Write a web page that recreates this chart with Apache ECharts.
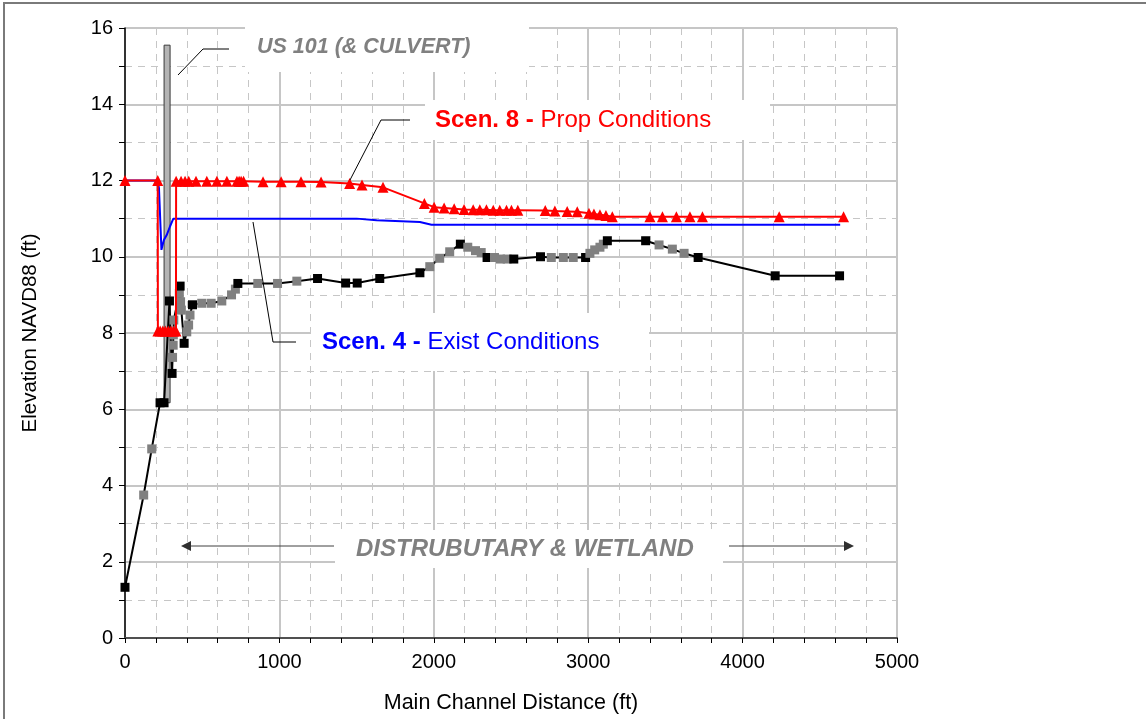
<!DOCTYPE html>
<html>
<head>
<meta charset="utf-8">
<script src="https://cdn.jsdelivr.net/npm/echarts@6/dist/echarts.min.js"></script>
<style>
  html, body { margin: 0; padding: 0; background: #fff; }
  #chart { width: 1146px; height: 719px; }
</style>
</head>
<body>
<div id="chart"></div>
<script>
// Water-surface profiles (Scenario 4 / Scenario 8) and channel thalweg along the main channel.

// Scenario 8 - proposed conditions water surface (ft, NAVD88)
const scen8Station = [0, 212, 213, 228, 245, 262, 280, 298, 315, 330, 331, 363, 389, 413, 460, 530, 595, 660, 725, 739, 752, 768,
  894, 1011, 1140, 1270, 1455, 1535, 1671, 1939, 2002, 2067, 2132, 2196, 2255, 2298, 2341, 2385, 2427, 2471, 2503, 2544,
  2722, 2784, 2864, 2929, 3005, 3037, 3076, 3115, 3156, 3400, 3481, 3571, 3659, 3740, 4237, 4654];
const scen8Elev = [12, 12, 8.05, 8.05, 8.05, 8.05, 8.05, 8.05, 8.05, 8.05, 11.98, 11.98, 11.98, 11.98, 11.98, 11.98, 11.98, 11.98, 11.98, 11.98, 11.98, 11.98,
  11.97, 11.97, 11.97, 11.96, 11.92, 11.88, 11.82, 11.40, 11.30, 11.28, 11.26, 11.24, 11.23, 11.23, 11.23, 11.22, 11.22, 11.22, 11.22, 11.22,
  11.21, 11.20, 11.19, 11.18, 11.14, 11.12, 11.10, 11.08, 11.05, 11.05, 11.05, 11.05, 11.05, 11.05, 11.05, 11.05];

// Scenario 4 - existing conditions water surface
const scen4Station = [0, 212, 220, 236, 242, 252, 270, 292, 313, 1500, 1630, 1910, 1985, 4632];
const scen4Elev = [12, 12, 11.8, 10.18, 10.28, 10.44, 10.57, 10.8, 11.0, 11.0, 10.96, 10.91, 10.84, 10.84];

// Channel bed profile; surveyed = 1 draws a black marker, 0 a gray one
const groundStation = [0, 121, 173, 227, 253, 288, 305, 308, 312, 313, 316, 352, 357, 360, 365, 383, 400, 412, 421, 437,
  497, 558, 627, 690, 715, 731, 860, 988, 1113, 1247, 1429, 1504, 1650, 1910, 1974, 2038, 2103, 2172, 2220, 2270,
  2307, 2345, 2393, 2432, 2475, 2518, 2691, 2761, 2839, 2903, 2983, 3011, 3042, 3076, 3098, 3124, 3372, 3459, 3545, 3621,
  3712, 4211, 4628];
const groundElev = [1.33, 3.75, 4.96, 6.17, 6.17, 8.84, 6.94, 7.36, 7.68, 7.95, 8.34, 9.04, 9.23, 8.82, 8.6, 7.73, 8.03, 8.21, 8.47, 8.74,
  8.78, 8.78, 8.84, 9.0, 9.15, 9.3, 9.3, 9.3, 9.36, 9.43, 9.31, 9.31, 9.43, 9.58, 9.74, 9.96, 10.13, 10.33, 10.25, 10.16,
  10.11, 9.98, 9.98, 9.94, 9.94, 9.94, 10.0, 9.98, 9.98, 9.98, 9.98, 10.09, 10.18, 10.25, 10.33, 10.42, 10.42, 10.31, 10.2, 10.09,
  9.98, 9.5, 9.5];
const groundSurveyed = [1, 0, 0, 1, 1, 1, 1, 0, 0, 0, 0, 0, 1, 0, 0, 1, 0, 0, 0, 1,
  0, 0, 0, 0, 0, 1, 0, 0, 0, 1, 1, 1, 1, 1, 0, 0, 0, 1, 0, 0,
  0, 1, 0, 0, 0, 1, 1, 0, 0, 0, 1, 0, 0, 0, 0, 1, 1, 0, 0, 0,
  1, 1, 1];

// US 101 road embankment / culvert: [station from, station to, bottom elev, top elev]
const culvert = [[253, 292, 6.17, 15.55]];

const xAxisMax = 5000;
const yAxisMax = 16;

const FONT = "'Liberation Sans', Arial, sans-serif";
const GRID_COLOR = '#c6c6c6';

const chart = echarts.init(document.getElementById('chart'), null, { renderer: 'canvas' });

const pairs = (xs, ys) => xs.map((x, i) => [x, ys[i]]);

const option = {
  animation: false,
  backgroundColor: '#fff',
  grid: { left: 125, right: 249, top: 28, bottom: 81, containLabel: false },
  xAxis: {
    type: 'value', min: 0, max: xAxisMax, interval: 1000,
    name: 'Main Channel Distance (ft)', nameLocation: 'middle', nameGap: 54,
    nameTextStyle: { color: '#000', fontSize: 21.5, fontFamily: FONT },
    axisLine: { show: true, onZero: false, lineStyle: { color: '#505050', width: 2 } },
    axisTick: { show: true, length: 5, lineStyle: { color: '#000', width: 1 } },
    minorTick: { show: true, splitNumber: 5, length: 5, lineStyle: { color: '#000', width: 1 } },
    splitLine: { show: true, lineStyle: { color: GRID_COLOR, width: 2 } },
    minorSplitLine: { show: true, lineStyle: { color: GRID_COLOR, width: 1, type: [7, 6] } },
    axisLabel: { color: '#000', fontSize: 20, fontFamily: FONT, margin: 14, formatter: v => String(v) }
  },
  yAxis: {
    type: 'value', min: 0, max: yAxisMax, interval: 2,
    name: 'Elevation NAVD88 (ft)', nameLocation: 'middle', nameGap: 84,
    nameTextStyle: { color: '#000', fontSize: 20.5, fontFamily: FONT },
    axisLine: { show: true, onZero: false, lineStyle: { color: '#000', width: 1.5 } },
    axisTick: { show: true, length: 6, lineStyle: { color: '#000', width: 1 } },
    minorTick: { show: true, splitNumber: 2, length: 6, lineStyle: { color: '#000', width: 1 } },
    splitLine: { show: true, lineStyle: { color: GRID_COLOR, width: 2 } },
    minorSplitLine: { show: true, lineStyle: { color: GRID_COLOR, width: 1, type: [7, 6] } },
    axisLabel: { color: '#000', fontSize: 20, fontFamily: FONT, margin: 12, formatter: v => String(v) }
  },
  series: [
    {
      name: 'US 101 (& CULVERT)',
      type: 'custom',
      z: 2,
      data: culvert,
      encode: { x: [0, 1], y: [2, 3] },
      renderItem: (params, api) => {
        const a = api.coord([api.value(0), api.value(3)]);
        const b = api.coord([api.value(1), api.value(2)]);
        return {
          type: 'rect',
          shape: { x: a[0], y: a[1], width: b[0] - a[0], height: b[1] - a[1] },
          style: { fill: '#b4b4b4', stroke: '#3a3a3a', lineWidth: 1 }
        };
      }
    },
    {
      name: 'Channel bed',
      type: 'line',
      z: 3,
      data: groundStation.map((x, i) => ({
        value: [x, groundElev[i]],
        itemStyle: { color: groundSurveyed[i] ? '#000000' : '#808080', borderWidth: 0 }
      })),
      symbol: 'rect', symbolSize: 9, showAllSymbol: true,
      lineStyle: { color: '#000', width: 2 }
    },
    {
      name: 'Scen. 4 - Exist Conditions',
      type: 'line',
      z: 4,
      data: pairs(scen4Station, scen4Elev),
      symbol: 'none',
      lineStyle: { color: '#0000ff', width: 2 }
    },
    {
      name: 'Scen. 8 - Prop Conditions',
      type: 'line',
      z: 5,
      data: pairs(scen8Station, scen8Elev),
      symbol: 'triangle', symbolSize: 11, showAllSymbol: true,
      itemStyle: { color: '#ff0000', borderWidth: 0 },
      lineStyle: { color: '#ff0000', width: 2 }
    }
  ],
  graphic: [
    // outer frame
    { type: 'polyline', z: 20, shape: { points: [[4, 719], [4, 3], [1146, 3]] }, style: { stroke: '#7a7a7a', lineWidth: 2, fill: null } },

    // annotation backgrounds
    { type: 'rect', z: 10, shape: { x: 245, y: 14, width: 284, height: 58 }, style: { fill: '#fff' } },
    { type: 'rect', z: 10, shape: { x: 425, y: 100, width: 345, height: 40 }, style: { fill: '#fff' } },
    { type: 'rect', z: 10, shape: { x: 311, y: 313, width: 338, height: 58 }, style: { fill: '#fff' } },
    { type: 'rect', z: 10, shape: { x: 335, y: 530, width: 388, height: 38 }, style: { fill: '#fff' } },

    // US 101 label
    { type: 'polyline', z: 11, shape: { points: [[178, 75], [203, 49], [229, 49]] }, style: { stroke: '#000', lineWidth: 1, fill: null } },
    { type: 'text', z: 11, x: 257, y: 47,
      style: { text: 'US 101 (& CULVERT)', fill: '#808080', font: `italic bold 21.5px ${FONT}`, textVerticalAlign: 'middle', verticalAlign: 'middle' } },

    // Scenario 8 label
    { type: 'polyline', z: 11, shape: { points: [[350, 180], [381, 120], [410, 120]] }, style: { stroke: '#000', lineWidth: 1, fill: null } },
    { type: 'text', z: 11, x: 435, y: 120,
      style: {
        text: '{b|Scen. 8 - }{n|Prop Conditions}', verticalAlign: 'middle', textVerticalAlign: 'middle',
        rich: {
          b: { fill: '#ff0000', color: '#ff0000', fontWeight: 'bold', fontSize: 24, fontFamily: FONT },
          n: { fill: '#ff0000', color: '#ff0000', fontSize: 24, fontFamily: FONT }
        }
      } },

    // Scenario 4 label
    { type: 'polyline', z: 11, shape: { points: [[253, 222], [273, 342], [296, 342]] }, style: { stroke: '#000', lineWidth: 1, fill: null } },
    { type: 'text', z: 11, x: 322, y: 342,
      style: {
        text: '{b|Scen. 4 - }{n|Exist Conditions}', verticalAlign: 'middle', textVerticalAlign: 'middle',
        rich: {
          b: { fill: '#0000ff', color: '#0000ff', fontWeight: 'bold', fontSize: 24, fontFamily: FONT },
          n: { fill: '#0000ff', color: '#0000ff', fontSize: 24, fontFamily: FONT }
        }
      } },

    // reach label with arrows
    { type: 'text', z: 11, x: 356, y: 549,
      style: { text: 'DISTRUBUTARY & WETLAND', fill: '#808080', font: `italic bold 24px ${FONT}`, verticalAlign: 'middle', textVerticalAlign: 'middle' } },
    { type: 'line', z: 11, shape: { x1: 334, y1: 546, x2: 188, y2: 546 }, style: { stroke: '#404040', lineWidth: 1 } },
    { type: 'polygon', z: 11, shape: { points: [[181, 546], [191, 541], [191, 551]] }, style: { fill: '#303030' } },
    { type: 'line', z: 11, shape: { x1: 729, y1: 546, x2: 846, y2: 546 }, style: { stroke: '#404040', lineWidth: 1 } },
    { type: 'polygon', z: 11, shape: { points: [[854, 546], [844, 541], [844, 551]] }, style: { fill: '#303030' } }
  ]
};

chart.setOption(option);
</script>
</body>
</html>
